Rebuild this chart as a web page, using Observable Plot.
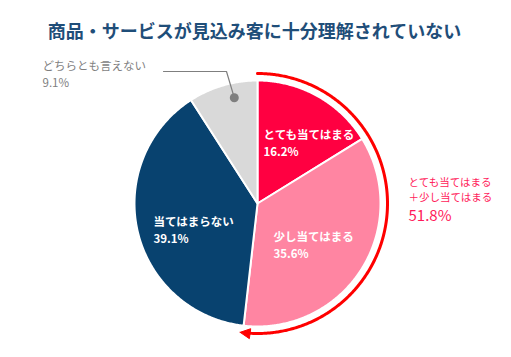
<!DOCTYPE html>
<html><head><meta charset="utf-8">
<script src="https://cdn.jsdelivr.net/npm/d3@7"></script>
<script src="https://cdn.jsdelivr.net/npm/@observablehq/plot@0.6"></script>
<style>body{margin:0;background:#fff;} #chart svg{display:block;}</style>
</head><body><div id="chart"></div>
<script>
// ---- data ----
const title = "商品・サービスが見込み客に十分理解されていない";
const categories = ["とても当てはまる", "少し当てはまる", "当てはまらない", "どちらとも言えない"];
const values = [16.2, 35.6, 39.1, 9.1];
const sliceColors = ["#FF0041", "#FF85A2", "#08426F", "#D9D9D9"];
const totalLines = ["とても当てはまる", "＋少し当てはまる"];
const totalValue = 51.8;

// ---- layout ----
const W = 511, H = 357;
const cx = 257, cy = 203, R = 123, arcR = 130;
const font = "'Noto Sans CJK JP', 'Noto Sans', sans-serif";
const labelLayout = [
  {x: 263, y: 135, color: "white"},
  {x: 273, y: 237, color: "white"},
  {x: 153, y: 222, color: "white"},
  {x: 42,  y: 66,  color: "#7F7F7F"}
];

const total = d3.sum(values);
const toXY = (deg, r) => {
  const a = deg * Math.PI / 180;
  return {x: cx + r * Math.sin(a), y: cy - r * Math.cos(a)};
};

// slice polygons
let acc = 0;
const slices = values.map((v, i) => {
  const a0 = acc / total * 360;
  acc += v;
  const a1 = acc / total * 360;
  const pts = [toXY(0, 0)];
  const n = Math.max(2, Math.ceil((a1 - a0) / 0.5));
  for (let k = 0; k <= n; k++) pts.push(toXY(a0 + (a1 - a0) * k / n, R));
  pts.push(toXY(0, 0));
  return {pts, a0, a1, i};
});

// red arc for total
const endDeg = totalValue / 100 * 360;
const arcPts = [];
for (let d = 0; d <= endDeg - 2; d += 0.5) arcPts.push(toXY(d, arcR));
// arrowhead triangle
const tipDeg = endDeg + 1.2;
const tip = toXY(tipDeg, arcR);
const ta = tipDeg * Math.PI / 180;
const tx = Math.cos(ta), ty = Math.sin(ta); // tangent (clockwise)
const baseC = {x: tip.x - 10 * tx, y: tip.y - 10 * ty};
const nx = -ty, ny = tx;
const arrowPts = [tip, {x: baseC.x + 5 * nx, y: baseC.y + 5 * ny}, {x: baseC.x - 5 * nx, y: baseC.y - 5 * ny}, tip];

// gray leader
const gray = slices[3];
const dot = toXY((gray.a0 + gray.a1) / 2 + 4, R * 0.88);
const leader = [{x: 163, y: 71}, {x: 226, y: 71}, dot];

const labelData = categories.map((c, i) => ({name: c, pct: values[i].toFixed(1) + "%", ...labelLayout[i]}));

const marks = [];
slices.forEach((s) => {
  marks.push(Plot.line(s.pts, {x: "x", y: "y", fill: sliceColors[s.i], stroke: "white", strokeWidth: 2, strokeLinejoin: "round"}));
});
marks.push(Plot.line(arcPts, {x: "x", y: "y", stroke: "#FF0000", strokeWidth: 3}));
marks.push(Plot.line(arrowPts, {x: "x", y: "y", fill: "#FF0000", stroke: "#FF0000", strokeWidth: 1}));
marks.push(Plot.line(leader, {x: "x", y: "y", stroke: "#7F7F7F", strokeWidth: 1.2}));
marks.push(Plot.dot([dot], {x: "x", y: "y", r: 4.5, fill: "#7F7F7F"}));
// slice labels
labelData.forEach((d, i) => {
  const bold = i < 3 ? "bold" : "normal";
  marks.push(Plot.text([d], {x: "x", y: "y", text: "name", fill: d.color, textAnchor: "start", fontSize: 11.5, fontWeight: bold, fontFamily: font}));
  marks.push(Plot.text([d], {x: "x", y: (e) => e.y + 17, text: "pct", fill: d.color, textAnchor: "start", fontSize: 11.5, fontWeight: bold, fontFamily: font}));
});
// total annotation
const totData = [
  {t: totalLines[0], x: 408, y: 182, s: 10.5},
  {t: totalLines[1], x: 408, y: 197, s: 10.5},
  {t: totalValue.toFixed(1) + "%", x: 408, y: 216, s: 15}
];
marks.push(Plot.text(totData, {x: "x", y: "y", text: "t", fontSize: (d) => d.s, fill: "#FF1A5A", textAnchor: "start", fontFamily: font}));
// title
marks.push(Plot.text([title], {x: () => 254, y: () => 32, text: (d) => d, fill: "#1F4E79", fontSize: 18, fontWeight: "bold", fontFamily: font}));

const chart = Plot.plot({
  width: W, height: H,
  margin: 0,
  x: {domain: [0, W], range: [0, W], axis: null},
  y: {domain: [0, H], range: [0, H], axis: null},
  style: {background: "white", fontFamily: font},
  marks
});
document.getElementById("chart").append(chart);
</script></body></html>
